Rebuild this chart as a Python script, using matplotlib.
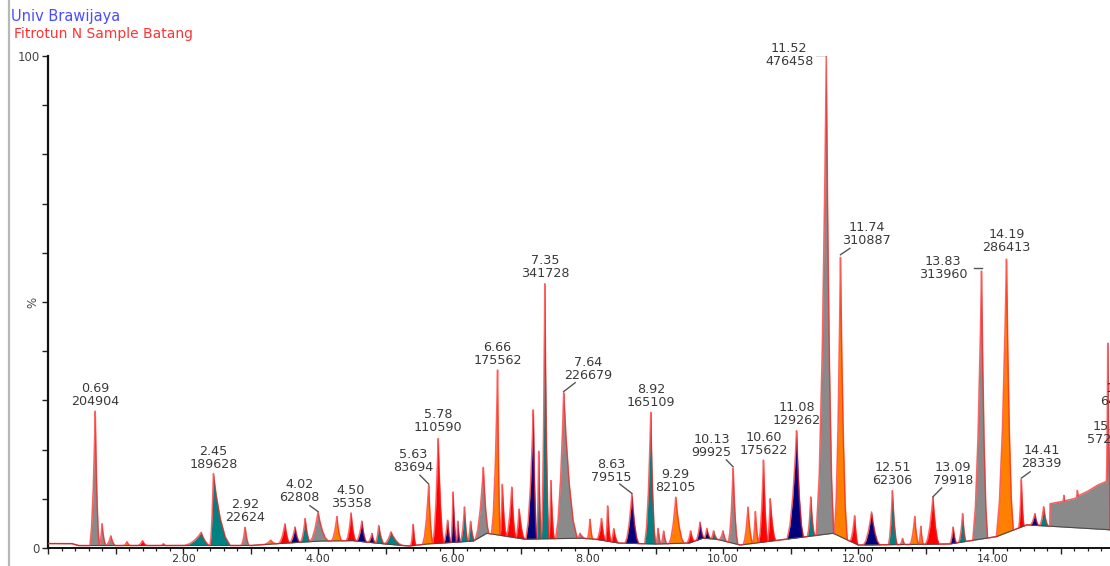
import numpy as np
import matplotlib
matplotlib.use("Agg")
import matplotlib.pyplot as plt
from matplotlib.ticker import MultipleLocator, FixedLocator, FuncFormatter

plt.rcParams['font.family'] = ['DejaVu Sans']

# ---------------------------------------------------------------- data
# Integrated peaks: apex retention time (min), apex intensity (% of base peak),
# start / end of the integration window (min) and fill colour key.
peak_rt = [0.70, 0.80, 0.93, 1.17, 1.40, 1.71, 2.27, 2.45, 2.92, 3.30,
           3.51, 3.66, 3.81, 4.00, 4.28, 4.49, 4.65, 4.80, 4.90, 5.08,
           5.41, 5.64, 5.78, 5.92, 6.00, 6.07, 6.17, 6.26, 6.45, 6.66,
           6.73, 6.87, 6.98, 7.19, 7.27, 7.36, 7.45, 7.64, 7.88, 8.03,
           8.20, 8.29, 8.38, 8.65, 8.93, 9.04, 9.12, 9.30, 9.52, 9.66,
           9.76, 9.86, 10.00, 10.15, 10.37, 10.48, 10.60, 10.70, 11.09, 11.30,
           11.53, 11.74, 11.95, 12.20, 12.51, 12.66, 12.84, 12.93, 13.11, 13.41,
           13.55, 13.83, 14.20, 14.42, 14.62, 14.75, 15.70]
peak_height = [28.0, 5.0, 2.5, 1.3, 1.5, 0.9, 3.2, 15.2, 4.3, 1.6,
               5.0, 4.3, 6.0, 7.4, 6.4, 7.2, 5.5, 3.0, 4.6, 3.3,
               5.0, 13.0, 22.6, 5.7, 11.8, 5.5, 8.4, 5.5, 16.5, 36.2,
               13.2, 12.5, 8.0, 28.5, 20.0, 54.0, 14.0, 31.8, 3.0, 6.0,
               6.0, 8.7, 4.0, 11.1, 27.7, 4.0, 3.5, 10.4, 3.5, 5.3,
               4.0, 3.5, 3.5, 16.5, 8.4, 7.5, 18.0, 10.0, 24.0, 10.4,
               100.0, 59.6, 6.7, 7.4, 11.8, 2.0, 6.4, 4.5, 10.4, 4.3,
               7.0, 56.8, 59.3, 14.2, 7.0, 8.4, 32.0]
peak_start = [0.62, 0.76, 0.86, 1.12, 1.33, 1.67, 2.02, 2.40, 2.86, 3.20,
              3.42, 3.58, 3.74, 3.88, 4.20, 4.42, 4.57, 4.74, 4.85, 4.98,
              5.37, 5.55, 5.70, 5.86, 5.97, 6.05, 6.11, 6.22, 6.33, 6.57,
              6.70, 6.79, 6.93, 7.08, 7.24, 7.31, 7.42, 7.52, 7.84, 7.99,
              8.13, 8.26, 8.34, 8.55, 8.84, 9.00, 9.08, 9.20, 9.46, 9.60,
              9.72, 9.82, 9.94, 10.08, 10.30, 10.44, 10.53, 10.66, 10.95, 11.25,
              11.38, 11.65, 11.88, 12.08, 12.45, 12.62, 12.77, 12.90, 13.00, 13.36,
              13.49, 13.70, 14.05, 14.38, 14.55, 14.69, 15.68]
peak_end = [0.76, 0.86, 1.00, 1.22, 1.47, 1.75, 2.40, 2.70, 2.98, 3.38,
            3.58, 3.73, 3.88, 4.15, 4.35, 4.56, 4.72, 4.85, 4.98, 5.25,
            5.45, 5.70, 5.86, 5.97, 6.05, 6.11, 6.22, 6.32, 6.53, 6.70,
            6.79, 6.93, 7.06, 7.24, 7.31, 7.42, 7.50, 7.84, 7.96, 8.07,
            8.26, 8.34, 8.45, 8.75, 9.00, 9.08, 9.17, 9.42, 9.58, 9.72,
            9.82, 9.92, 10.06, 10.22, 10.44, 10.53, 10.66, 10.78, 11.19, 11.36,
            11.64, 11.84, 12.00, 12.32, 12.58, 12.70, 12.90, 12.97, 13.20, 13.46,
            13.60, 13.92, 14.30, 14.46, 14.68, 14.82, 15.73]
peak_color = ['gray', 'gray', 'gray', 'orange', 'red', 'navy', 'teal', 'teal', 'gray', 'orange',
              'red', 'navy', 'teal', 'gray', 'orange', 'red', 'navy', 'navy', 'teal', 'teal',
              'red', 'orange', 'red', 'navy', 'navy', 'navy', 'teal', 'teal', 'gray', 'orange',
              'red', 'red', 'red', 'navy', 'teal', 'teal', 'red', 'gray', 'gray', 'orange',
              'red', 'red', 'red', 'navy', 'teal', 'gray', 'gray', 'orange', 'red', 'navy',
              'navy', 'teal', 'gray', 'gray', 'orange', 'orange', 'red', 'red', 'navy', 'teal',
              'gray', 'orange', 'red', 'navy', 'teal', 'gray', 'orange', 'orange', 'red', 'navy',
              'teal', 'gray', 'orange', 'red', 'navy', 'teal', 'gray']

# Integration baseline (min, %)
base_t = [0.0, 0.35, 0.45, 3.0, 3.3, 4.0, 4.5, 5.0, 5.35, 5.6, 6.3, 6.5,
          7.05, 7.9, 8.1, 8.45, 9.0, 9.5, 9.7, 9.9, 10.25, 11.63, 12.0,
          13.35, 14.05, 14.5, 15.73]
base_v = [0.9, 0.9, 0.5, 0.5, 0.8, 1.4, 1.5, 0.8, 0.4, 0.8, 1.4, 3.0,
          1.8, 2.0, 1.8, 1.0, 0.8, 1.0, 2.0, 1.8, 0.6, 3.0, 0.6,
          0.8, 2.3, 4.7, 3.7]

# Unresolved late-eluting hump (min, %)
hump_t = [14.84, 14.845, 15.0, 15.04, 15.05, 15.06, 15.2, 15.24, 15.25,
          15.26, 15.4, 15.55, 15.73]
hump_v = [4.4, 9.0, 9.4, 9.5, 10.8, 9.6, 10.0, 10.3, 11.8,
          10.6, 11.5, 12.8, 13.8]

# Annotated peaks: retention time and area
label_rt = ["0.69", "2.45", "2.92", "4.02", "4.50", "5.63", "5.78", "6.66",
            "7.35", "7.64", "8.63", "8.92", "9.29", "10.13", "10.60", "11.08",
            "11.52", "11.74", "12.51", "13.09", "13.83", "14.19", "14.41"]
label_area = ["204904", "189628", "22624", "62808", "35358", "83694", "110590",
              "175562", "341728", "226679", "79515", "165109", "82105", "99925",
              "175622", "129262", "476458", "310887", "62306", "79918", "313960",
              "286413", "28339"]

# Annotations of peaks eluting past the displayed window
edge_rt = ["15.93", "15.75"]
edge_area = ["641827", "572308"]

# ---------------------------------------------------------------- layout
# Offset annotations: text centre x, text bottom y, leader start x, leader start y
leader_layout = {
    "4.02": (3.72, 9.0, 3.88, 8.6),
    "5.63": (5.41, 15.1, 5.51, 14.8),
    "7.64": (8.00, 33.7, 7.81, 33.6),
    "8.63": (8.35, 13.0, 8.47, 13.0),
    "10.13": (9.83, 18.0, 10.05, 17.9),
    "11.52": (10.98, 97.6, 11.38, 100.3),
    "11.74": (12.13, 61.1, 11.88, 60.9),
    "13.09": (13.41, 12.4, 13.24, 12.2),
    "13.83": (13.26, 54.2, 13.72, 57.0),
    "14.41": (14.72, 15.8, 14.55, 15.5),
}
horizontal_leaders = {"11.52", "13.83"}
edge_layout = [(15.94, 28.4), (15.75, 20.8)]

COLORS = {'red': '#ff0000', 'orange': '#ff8000', 'navy': '#00007f',
          'teal': '#008282', 'gray': '#8a8a8a'}
SHAPE_U = [-1.0, -0.7, -0.4, -0.15, 0.0, 0.15, 0.4, 0.7, 1.0]
SHAPE_F = [0.0, 0.12, 0.38, 0.72, 1.0, 0.72, 0.38, 0.12, 0.0]

T_MAX = 1062 / 67.5

# ---------------------------------------------------------------- signal
t = np.linspace(0.0, T_MAX, 8000)
base = np.interp(t, base_t, base_v)

contrib = []
for rt, h, t0, t1 in zip(peak_rt, peak_height, peak_start, peak_end):
    amp = h - np.interp(rt, base_t, base_v)
    u = np.where(t < rt, (t - rt) / (rt - t0), (t - rt) / (t1 - rt))
    contrib.append(amp * np.interp(u, SHAPE_U, SHAPE_F, left=0.0, right=0.0))
contrib = np.array(contrib)

in_hump = (t >= hump_t[0]) & (t <= hump_t[-1])
hump = np.where(in_hump, np.clip(np.interp(t, hump_t, hump_v) - base, 0, None), 0.0)

trace = base + contrib.sum(axis=0) + hump

# ---------------------------------------------------------------- figure
fig = plt.figure(figsize=(11.10, 5.66), dpi=100)
ax = fig.add_axes([48 / 1110, 18 / 566, 1062 / 1110, 492 / 566])

for i, c in enumerate(peak_color):
    mask = (t >= peak_start[i]) & (t <= peak_end[i])
    ax.fill_between(t, base, trace, where=mask, color=COLORS[c],
                    linewidth=0, zorder=2)
ax.fill_between(t, base, trace, where=in_hump, color=COLORS['gray'],
                linewidth=0, zorder=2)

ax.plot(t, base, color='#4a4a4a', lw=0.8, zorder=3)
ax.plot(t, trace, color='#ff2020', lw=1.1, alpha=0.7, zorder=4)

# peak annotations
txt_kw = dict(ha='center', va='bottom', fontsize=9.2, color='#3a3a3a',
              linespacing=1.0, zorder=6, clip_on=False)
for rt_txt, area in zip(label_rt, label_area):
    k = int(np.argmin(np.abs(np.array(peak_rt) - float(rt_txt))))
    apex_t, apex_h = peak_rt[k], peak_height[k]
    if rt_txt in leader_layout:
        tx, ty, lx, ly = leader_layout[rt_txt]
        ax.text(tx, ty, f"{rt_txt}\n{area}", **txt_kw)
        if rt_txt in horizontal_leaders:
            ax.plot([lx, apex_t], [ly, ly], color='#555555', lw=1.0, zorder=5)
        else:
            ax.plot([lx, apex_t], [ly, apex_h], color='#555555', lw=1.0, zorder=5)
    else:
        ax.text(apex_t, apex_h + 0.5, f"{rt_txt}\n{area}", **txt_kw)

for (tx, ty), rt_txt, area in zip(edge_layout, edge_rt, edge_area):
    ax.text(tx, ty, f"{rt_txt}\n{area}", **txt_kw)

# axes
ax.set_xlim(0, T_MAX)
ax.set_ylim(0, 100)
for s in ('top', 'right'):
    ax.spines[s].set_visible(False)
ax.spines['left'].set_linewidth(1.6)
ax.spines['bottom'].set_linewidth(1.4)
ax.spines['left'].set_color('#111111')
ax.spines['bottom'].set_color('#111111')

ax.xaxis.set_major_locator(MultipleLocator(1.0))
ax.xaxis.set_minor_locator(MultipleLocator(0.2))
ax.xaxis.set_major_formatter(FuncFormatter(
    lambda v, p: f"{v:.2f}" if (round(v) % 2 == 0 and v > 0.5) else ""))
ax.tick_params(axis='x', which='major', length=4.0, width=1.0, color='#222222',
               labelsize=8.0, labelcolor='#333333', pad=0.5)
ax.tick_params(axis='x', which='minor', length=2.5, width=0.9, color='#222222')

ax.yaxis.set_major_locator(FixedLocator([0, 50, 100]))
ax.yaxis.set_minor_locator(MultipleLocator(10))
ax.set_yticklabels(['0', '%', '100'])
ax.tick_params(axis='y', which='both', length=4, width=1.0, color='#222222',
               labelsize=8.5, labelcolor='#444444', pad=2)
ax.get_yticklabels()[1].set_rotation(90)
ax.get_yticklabels()[1].set_va('center')

# header and panel frame
fig.text(11 / 1110, 1 - 16 / 566, "Univ Brawijaya", color='#4b4bff',
         fontsize=10.5, va='center', ha='left')
fig.text(14 / 1110, 1 - 34 / 566, "Fitrotun N Sample Batang", color='#ff3333',
         fontsize=10, va='center', ha='left')
fig.add_artist(plt.Line2D([8.5 / 1110, 8.5 / 1110], [0, 1], color='#b8b8b8',
                          lw=1.6, transform=fig.transFigure))

fig.savefig("out.png", dpi=100)
